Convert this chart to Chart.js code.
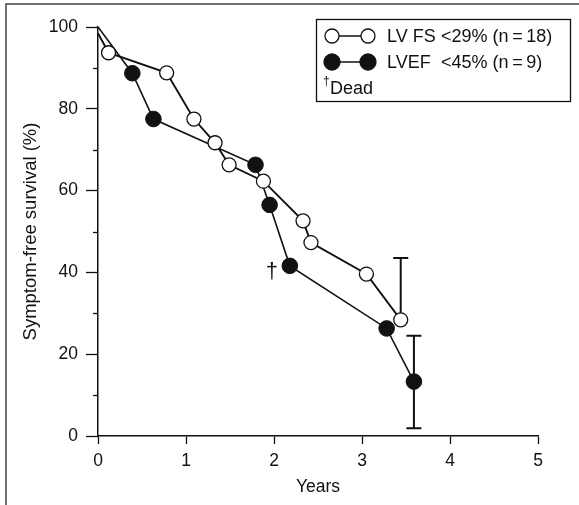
<!DOCTYPE html>
<html>
<head>
<meta charset="utf-8">
<script src="https://cdn.jsdelivr.net/npm/chart.js@4.4.1/dist/chart.umd.min.js"></script>
<style>
  html, body { margin: 0; padding: 0; background: #fff; }
  #chart { display: block; }
</style>
</head>
<body>
<canvas id="chart" width="579" height="505"></canvas>
<script>
// LV FS < 29% (open circles)
const fsYears = [0, 0.12, 0.78, 1.09, 1.33, 1.49, 1.88, 2.33, 2.42, 3.05, 3.44];
const fsSurvival = [98.5, 93.7, 88.8, 77.5, 71.7, 66.3, 62.3, 52.6, 47.3, 39.6, 28.4];
// LVEF < 45% (filled circles)
const efYears = [0, 0.39, 0.63, 1.79, 1.95, 2.18, 3.28, 3.59];
const efSurvival = [100, 88.7, 77.5, 66.3, 56.5, 41.6, 26.3, 13.3];

const xTicks = [0, 1, 2, 3, 4, 5];
const yTicks = [0, 20, 40, 60, 80, 100];
const yMinorTicks = [10, 30, 50, 70, 90];

// error bars: dataset, point index, low and high survival
const errorBars = [
  { dataset: 0, index: 10, low: 28.4, high: 43.5 },
  { dataset: 1, index: 7, low: 1.9, high: 24.5 },
];
// "dead" marks next to a point
const deadMarks = [{ dataset: 1, index: 5 }];

const legendRows = [
  { name: 'LV FS', cond: '<29% (n\u2009=\u200918)', filled: false },
  { name: 'LVEF', cond: '<45% (n\u2009=\u20099)', filled: true },
];

const FONT = '"Liberation Sans", Arial, Helvetica, sans-serif';
const INK = '#111';

const toPoints = (xs, ys) => xs.map((x, i) => ({ x, y: ys[i] }));

const framePlugin = {
  id: 'frame',
  afterDraw(chart) {
    const ctx = chart.ctx;
    ctx.save();
    ctx.strokeStyle = '#444';
    ctx.lineWidth = 1.5;
    ctx.beginPath();
    ctx.moveTo(6, 505);
    ctx.lineTo(6, 4);
    ctx.lineTo(579, 4);
    ctx.stroke();
    ctx.restore();
  },
};

const minorTicksPlugin = {
  id: 'minorTicks',
  afterDraw(chart) {
    const { ctx, scales: { y } } = chart;
    ctx.save();
    ctx.strokeStyle = INK;
    ctx.lineWidth = 1.3;
    yMinorTicks.forEach((v) => {
      const py = Math.round(y.getPixelForValue(v)) + 0.5;
      ctx.beginPath();
      ctx.moveTo(y.right - 5, py);
      ctx.lineTo(y.right, py);
      ctx.stroke();
    });
    ctx.restore();
  },
};

const errorBarPlugin = {
  id: 'errorBars',
  beforeDatasetsDraw(chart) {
    const { ctx, scales: { x, y } } = chart;
    ctx.save();
    ctx.strokeStyle = INK;
    ctx.lineWidth = 2;
    errorBars.forEach((e) => {
      const ds = chart.data.datasets[e.dataset].data[e.index];
      const px = x.getPixelForValue(ds.x);
      const pLo = y.getPixelForValue(e.low);
      const pHi = y.getPixelForValue(e.high);
      ctx.beginPath();
      ctx.moveTo(px, pLo);
      ctx.lineTo(px, pHi);
      ctx.moveTo(px - 7.5, pHi);
      ctx.lineTo(px + 7.5, pHi);
      if (e.low < ds.y) {
        ctx.moveTo(px - 7.5, pLo);
        ctx.lineTo(px + 7.5, pLo);
      }
      ctx.stroke();
    });
    ctx.restore();
  },
  afterDatasetsDraw(chart) {
    const { ctx, scales: { x, y } } = chart;
    ctx.save();
    ctx.fillStyle = INK;
    ctx.font = '22px ' + FONT;
    ctx.textAlign = 'center';
    ctx.textBaseline = 'middle';
    deadMarks.forEach((m) => {
      const p = chart.data.datasets[m.dataset].data[m.index];
      ctx.fillText('\u2020', x.getPixelForValue(p.x) - 18, y.getPixelForValue(p.y) + 6);
    });
    ctx.restore();
  },
};

const legendPlugin = {
  id: 'boxLegend',
  afterDraw(chart) {
    const ctx = chart.ctx;
    ctx.save();
    ctx.strokeStyle = INK;
    ctx.lineWidth = 1.3;
    ctx.strokeRect(316.5, 19.5, 254, 82);
    legendRows.forEach((r, i) => {
      const cy = 36 + i * 26;
      ctx.lineWidth = 1.5;
      ctx.beginPath();
      ctx.moveTo(332, cy);
      ctx.lineTo(368, cy);
      ctx.stroke();
      [332, 368].forEach((cx) => {
        ctx.beginPath();
        ctx.arc(cx, cy, r.filled ? 8 : 7, 0, Math.PI * 2);
        ctx.fillStyle = r.filled ? INK : '#fff';
        ctx.fill();
        ctx.lineWidth = 1.3;
        ctx.stroke();
      });
      ctx.fillStyle = INK;
      ctx.font = '18px ' + FONT;
      ctx.textBaseline = 'middle';
      ctx.textAlign = 'left';
      ctx.fillText(r.name, 387, cy + 1);
      ctx.fillText(r.cond, 441, cy + 1);
    });
    ctx.font = '12px ' + FONT;
    ctx.fillText('\u2020', 323, 82);
    ctx.font = '18px ' + FONT;
    ctx.fillText('Dead', 330, 89);
    ctx.restore();
  },
};

function fixScale(size) {
  return (scale) => {
    if (scale.isHorizontal()) scale.height = size;
    else scale.width = size;
    scale.paddingLeft = scale.paddingRight = 0;
    scale.paddingTop = scale.paddingBottom = 0;
  };
}

new Chart(document.getElementById('chart'), {
  type: 'scatter',
  data: {
    datasets: [
      {
        label: 'LV FS <29% (n = 18)',
        data: toPoints(fsYears, fsSurvival),
        showLine: true,
        borderColor: INK,
        borderWidth: 1.9,
        pointBackgroundColor: '#fff',
        pointBorderColor: INK,
        pointBorderWidth: 1.3,
        pointRadius: (c) => (c.dataIndex === 0 ? 0 : 7),
      },
      {
        label: 'LVEF <45% (n = 9)',
        data: toPoints(efYears, efSurvival),
        showLine: true,
        borderColor: INK,
        borderWidth: 1.6,
        pointBackgroundColor: INK,
        pointBorderColor: INK,
        pointBorderWidth: 1,
        pointRadius: (c) => (c.dataIndex === 0 ? 0 : 7.8),
      },
    ],
  },
  options: {
    responsive: false,
    animation: false,
    devicePixelRatio: 1,
    layout: { padding: { left: 0, top: 27, right: 41, bottom: 0 } },
    plugins: { legend: { display: false }, tooltip: { enabled: false } },
    scales: {
      x: {
        type: 'linear',
        min: 0,
        max: 5,
        afterFit: fixScale(69),
        afterBuildTicks: (s) => { s.ticks = xTicks.map((v) => ({ value: v })); },
        ticks: { color: INK, font: { family: FONT, size: 17.5 }, padding: 7, maxRotation: 0 },
        grid: { drawOnChartArea: false, drawTicks: true, tickLength: 8, tickColor: INK, tickWidth: 1.3 },
        border: { display: true, color: INK, width: 1.5 },
        title: { display: true, text: 'Years', color: INK, font: { family: FONT, size: 17.5 }, padding: { top: 0, bottom: 7 } },
      },
      y: {
        type: 'linear',
        min: 0,
        max: 100,
        afterFit: fixScale(98),
        afterBuildTicks: (s) => { s.ticks = yTicks.map((v) => ({ value: v })); },
        ticks: { color: INK, font: { family: FONT, size: 17.5 }, padding: 8 },
        grid: { drawOnChartArea: false, drawTicks: true, tickLength: 12, tickColor: INK, tickWidth: 1.3 },
        border: { display: true, color: INK, width: 1.5 },
        title: { display: true, text: 'Symptom-free survival (%)', color: INK, font: { family: FONT, size: 18.5 }, padding: { top: 20, bottom: 0 } },
      },
    },
  },
  plugins: [errorBarPlugin, minorTicksPlugin, legendPlugin, framePlugin],
});
</script>
</body>
</html>
